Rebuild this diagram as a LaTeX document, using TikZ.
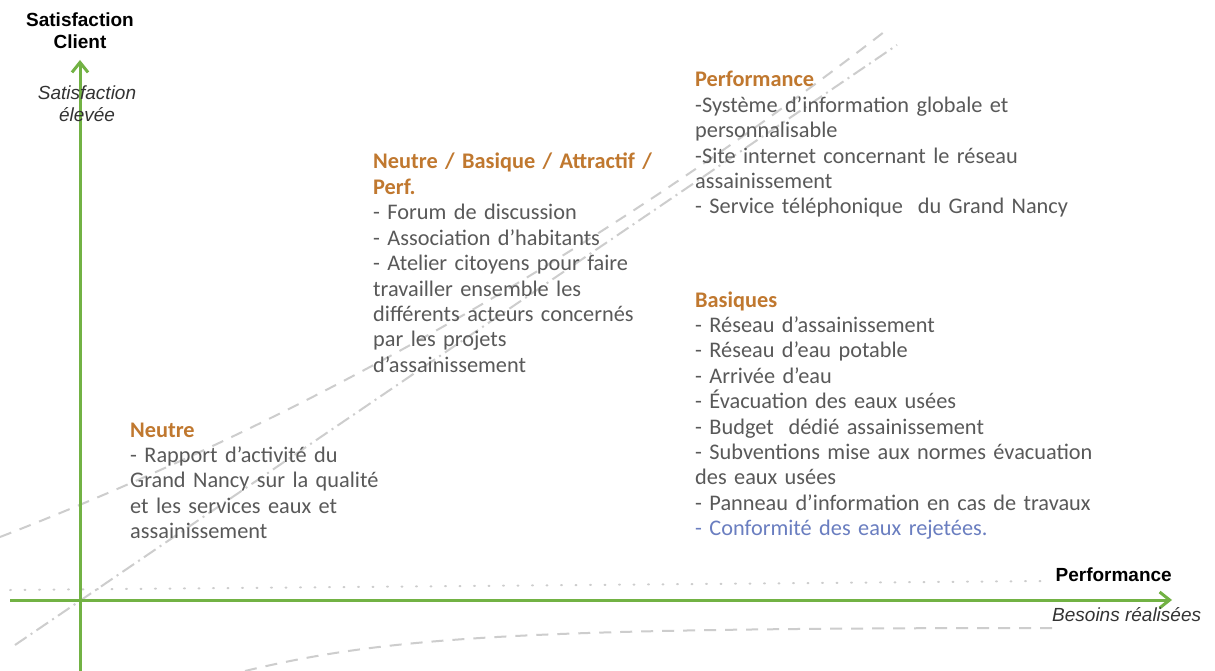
\documentclass[tikz,border=0pt]{standalone}
\usepackage{fontspec}
\setmainfont{Carlito}
\newfontfamily\axfont{Liberation Sans}
\usetikzlibrary{positioning,arrows.meta}
\definecolor{titre}{HTML}{C0782F}
\definecolor{texte}{HTML}{595959}
\definecolor{bleu}{HTML}{6A7EC0}
\definecolor{vert}{HTML}{72B244}
\definecolor{fond}{HTML}{CDCDCD}
\newcommand\blocfont{\fontsize{22.3}{25.4}\selectfont\spaceskip=4.2pt\relax}

\begin{document}
\begin{tikzpicture}[x=1pt,y=-1pt,
  axe/.style={vert,line width=3pt,-{Straight Barb[length=10pt,width=16pt]}},
  bloc/.style={anchor=base west,inner sep=0pt,text width=450pt,align=left,text=texte,font=\blocfont},
  etiq/.style={inner sep=0pt,align=center,font=\axfont\fontsize{19}{22}\selectfont},
  courbe/.style={fond,line width=2pt}]
\fill [white] (0,0) rectangle (1215,671);
\useasboundingbox (0,0) rectangle (1215,671);
% courbes de fond
\draw [courbe,line cap=round,dash pattern=on 1pt off 13.5pt] (10,590) -- (1045,581);
\draw [courbe,dash pattern=on 14pt off 5pt on 2pt off 5pt] (15,645) -- (897,45);
\draw [courbe,dash pattern=on 12pt off 9pt] (0,537) .. controls (250,440) and (550,290) .. (884,32);
\draw [courbe,dash pattern=on 12pt off 9pt] (245,671) .. controls (390,636) and (530,628) .. (1060,628);
% axes
\coordinate (O) at (80,600);
\coordinate (ytop) at (80,60);
\coordinate (ybot) at (80,671);
\coordinate (xleft) at (10,600);
\coordinate (xright) at (1172,600);
\draw [axe] (ybot) -- (ytop);
\draw [axe] (xleft) -- (xright);
\node [etiq,font=\axfont\bfseries\fontsize{19}{22}\selectfont,above=11pt of ytop] (satclient) {Satisfaction\\Client};
\node [etiq,font=\axfont\itshape\fontsize{19}{22}\selectfont,text=black!80] (satelev) at (87,104) {Satisfaction\\élevée};
\node [etiq,font=\axfont\bfseries\fontsize{19}{22}\selectfont,above left=18pt and 0pt of xright] (perfax) {Performance};
\node [etiq,font=\axfont\itshape\fontsize{19}{22}\selectfont,text=black!80,anchor=west] (besoins) at (1052,615) {Besoins réalisées};
% blocs
\node [bloc] (neutre) at (130,437) {\textcolor{titre}{\bfseries Neutre}\\
- Rapport d’activité du\\Grand Nancy sur la qualité\\et les services eaux et\\assainissement};
\node [bloc] (mixte) at (373,169) {\textcolor{titre}{\bfseries Neutre / Basique / Attractif /\\Perf.}\\
- Forum de discussion\\- Association d’habitants\\- Atelier citoyens pour faire\\travailler ensemble les\\différents acteurs concernés\\par les projets\\d’assainissement};
\node [bloc] (perf) at (695,87) {\textcolor{titre}{\bfseries Performance}\\
-Système d’information globale et\\personnalisable\\-Site internet concernant le réseau\\assainissement\\- Service téléphonique\ \ du Grand Nancy};
\node [bloc] (basiques) at (695,307) {\textcolor{titre}{\bfseries Basiques}\\
- Réseau d’assainissement\\- Réseau d’eau potable\\- Arrivée d’eau\\- Évacuation des eaux usées\\- Budget\ \ dédié assainissement\\- Subventions mise aux normes évacuation\\des eaux usées\\- Panneau d’information en cas de travaux\\\textcolor{bleu}{- Conformité des eaux rejetées.}};
\end{tikzpicture}
\end{document}
